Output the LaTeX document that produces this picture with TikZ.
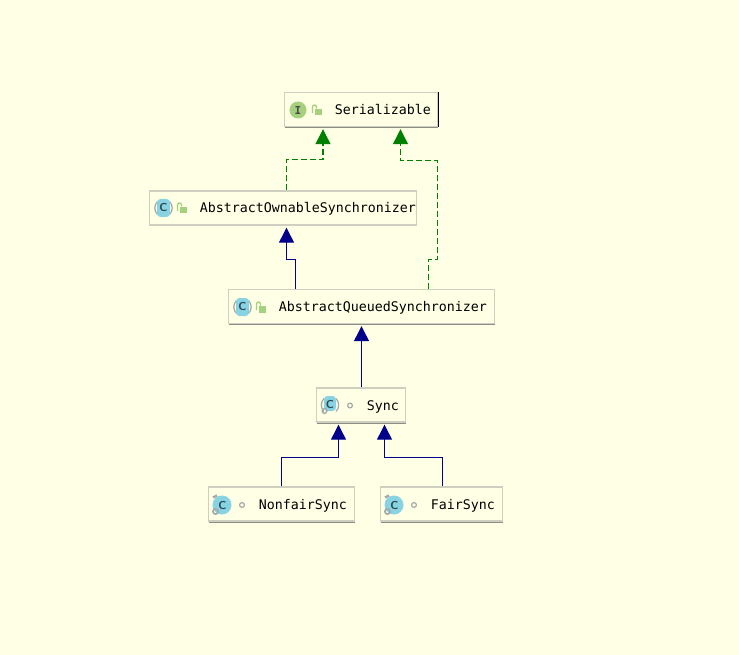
\documentclass[tikz,border=0pt]{standalone}
\usepackage{fontspec}
\setmonofont{DejaVu Sans Mono}
\usepackage{tikz}
\usetikzlibrary{arrows.meta,shadows}
\definecolor{paper}{HTML}{FFFFE6}
\definecolor{boxedge}{HTML}{CFCFC0}
\definecolor{boxshade}{HTML}{8E8E88}
\definecolor{implgreen}{HTML}{008000}
\definecolor{extblue}{HTML}{00008B}
\definecolor{iconblue}{HTML}{87D3E3}
\definecolor{icongreen}{HTML}{A5D07E}
\definecolor{icongray}{HTML}{A4A8A8}
\newcommand{\nudged}[2]{\mbox{\kern#1pt #2\kern-#1pt}}
\tikzset{
classbox/.style={draw=boxedge,line width=1.4pt,fill=paper,text width=#1-13pt,inner xsep=6.5pt,inner ysep=0pt,text height=13pt,text depth=3pt,minimum height=34pt,align=right,font=\ttfamily\fontsize{13.3}{15}\selectfont,drop shadow={shadow xshift=0.3pt,shadow yshift=-1.5pt,fill=boxshade,opacity=1}},
letter/.style={inner sep=0pt,text=black!65!iconblue,font=\sffamily\bfseries\fontsize{11.5}{12}\selectfont},
arrow/.style={line width=1.2pt},
extends/.style={arrow,draw=extblue,-{Triangle[length=15pt,width=15pt,fill=extblue]}},
implements/.style={arrow,draw=implgreen,dash pattern=on 6pt off 3pt,-{Triangle[length=15pt,width=15pt,fill=implgreen,sep=0pt]}},
ifaceicon/.pic={
\fill[icongreen] (0,0) circle (8.5);
\node[letter,text=black!70,font=\ttfamily\bfseries\fontsize{11}{11}\selectfont] (-letter) at (0,0) {I};},
abstracticon/.pic={
\draw[icongray,line width=1.2pt] (-6,-6.5) arc[start angle=225,end angle=135,radius=9.2];
\draw[icongray,line width=1.2pt] (6,-6.5) arc[start angle=-45,end angle=45,radius=9.2];
\fill[iconblue,rounded corners=3.5pt] (-6.5,-9) rectangle (6.5,9);
\node[letter] (-letter) at (0,0) {C};},
innericon/.pic={
\draw[icongray,line width=1.2pt] (6,-6.5) arc[start angle=-45,end angle=45,radius=9.2];
\draw[icongray,line width=1.2pt] (-6,-6.5) arc[start angle=225,end angle=135,radius=9.2];
\fill[iconblue,rounded corners=3.5pt] (-6,-9) rectangle (6,6);
\node[letter] (-letter) at (0,0) {C};
\draw[icongray,line width=1.3pt] (-5.5,6) circle (2.4);},
leaficon/.pic={
\fill[iconblue] (0,0) circle (9.5);
\node[letter] (-letter) at (0.5,0.5) {C};
\draw[icongray,line width=2.4pt] (-9,-7.5) -- (-5,-9.5);
\draw[icongray,line width=1.6pt] (-6.5,6.5) circle (2.6);},
openlock/.pic={
\fill[icongreen] (-2.5,-1) rectangle (5,5.5);
\draw[icongreen,line width=1.3pt] (-4.5,3) -- (-4.5,-3) arc[start angle=180,end angle=360,radius=2] -- (-0.5,-1.5);},
pkgdot/.pic={
\draw[icongray,line width=1.2pt] (0,0) circle (2.4);}
}

\begin{document}
\begin{tikzpicture}[x=1pt,y=-1pt]
\useasboundingbox[fill=paper] (0,0) rectangle (739,655);

\node[classbox=153pt] (Serial) at (361,109.5) {Serializable};

\node[classbox=267pt] (Ownable) at (283,208) {\nudged{6}{AbstractOwnableSynchronizer}};

\node[classbox=266pt] (Queued) at (361.5,306.5) {\nudged{-1}{AbstractQueuedSynchronizer}};

\node[classbox=89pt] (Sync) at (361,405) {Sync};

\node[classbox=146pt] (Nonfair) at (281.5,504) {\nudged{-1}{NonfairSync}};

\node[classbox=122pt] (Fair) at (441.5,504) {\nudged{-1}{FairSync}};

\draw[line width=1pt] (Serial.north east) -- (Serial.south east);

\pic (SerialIcon) at (298,110) {ifaceicon};
\pic at (317,110) {openlock};
\pic (OwnableIcon) at (163.5,208) {abstracticon};
\pic at (182,208) {openlock};
\pic (QueuedIcon) at (242.5,307) {abstracticon};
\pic at (261,307) {openlock};
\pic (SyncIcon) at (330,405) {innericon};
\pic at (350,405.5) {pkgdot};
\pic (NonfairIcon) at (222,505) {leaficon};
\pic at (242,505) {pkgdot};
\pic (FairIcon) at (394,505) {leaficon};
\pic at (414,505) {pkgdot};

\draw[implements] ([xshift=3.5pt]Ownable.north) |- (323,159.5) -- ([xshift=-38pt,yshift=-2pt]Serial.south);

\draw[implements] ([xshift=67pt]Queued.north) |- (437.5,259.5) |- (400.5,160.5) -- ([xshift=39.5pt,yshift=-2pt]Serial.south);

\draw[extends] ([xshift=-66pt]Queued.north) |- (286.5,259.5) -- ([xshift=3.5pt,yshift=-2pt]Ownable.south);

\draw[extends] (Queued.south |- Sync.north) -- ([yshift=-2pt]Queued.south);

\draw[extends] ([xshift=0pt]Nonfair.north) |- (338.5,457.5) -- ([xshift=-22.5pt,yshift=-2pt]Sync.south);

\draw[extends] ([xshift=1pt]Fair.north) |- (384.5,457.5) -- ([xshift=23.5pt,yshift=-2pt]Sync.south);

\end{tikzpicture}
\end{document}
